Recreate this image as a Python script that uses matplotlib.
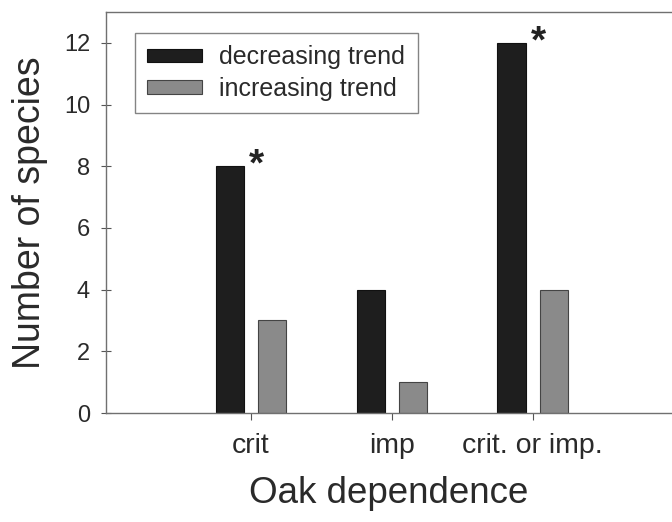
import matplotlib
matplotlib.use("Agg")
import matplotlib.pyplot as plt
import numpy as np

categories = ["crit", "imp", "crit. or imp."]
decreasing = [8, 4, 12]
increasing = [3, 1, 4]
series_labels = ["decreasing trend", "increasing trend"]
significant = [True, False, True]

plt.rcParams['font.family'] = ['Liberation Sans', 'DejaVu Sans']

fig = plt.figure(figsize=(6.72, 5.22), dpi=100)
ax = fig.add_axes([106 / 672, 109 / 522, 1 - 106 / 672, 401 / 522])

x = np.arange(1, len(categories) + 1)
w = 0.2
off = 0.15
ax.bar(x - off, decreasing, w, color="#1e1e1e", edgecolor="#111111", linewidth=0.8, label=series_labels[0])
ax.bar(x + off, increasing, w, color="#8a8a8a", edgecolor="#444444", linewidth=0.8, label=series_labels[1])

fs_star = 28
for xi, v, s in zip(x, decreasing, significant):
    if s:
        ax.annotate("*", xy=(xi - off + w / 2 + 0.09, v + 0.43), xytext=(0, -0.58 * fs_star),
                    textcoords="offset points", fontsize=fs_star, ha="center", va="baseline",
                    color="#222222", fontweight="bold")

ax.set_xlim(-0.03, 3.99)
ax.set_ylim(0, 13.0)
ax.set_yticks([0, 2, 4, 6, 8, 10, 12])
ax.set_xticks(x)
ax.set_xticklabels(categories)
ax.tick_params(axis="y", labelsize=17, direction="inout", length=7, pad=8,
               colors="#555555", labelcolor="#2a2a2a")
ax.tick_params(axis="x", labelsize=20.5, direction="out", length=5, pad=9.5,
               colors="#555555", labelcolor="#2a2a2a")
for sp in ["left", "bottom", "top"]:
    ax.spines[sp].set_color("#707070")
    ax.spines[sp].set_linewidth(1.0)
ax.spines["right"].set_visible(False)

ax.set_ylabel("Number of species", fontsize=27, color="#2a2a2a", labelpad=11)
ax.set_xlabel("Oak dependence", fontsize=26.5, color="#2a2a2a", labelpad=12)

leg = ax.legend(loc="upper left", bbox_to_anchor=(0.051, 0.948), borderaxespad=0, fontsize=18,
                handlelength=2.2, handleheight=0.44, frameon=True, fancybox=False,
                edgecolor="#666666", borderpad=0.5, labelspacing=0.3, handletextpad=0.68)
leg.get_frame().set_linewidth(1.0)
for t in leg.get_texts():
    t.set_color("#2a2a2a")

fig.savefig("out.png", dpi=100)
